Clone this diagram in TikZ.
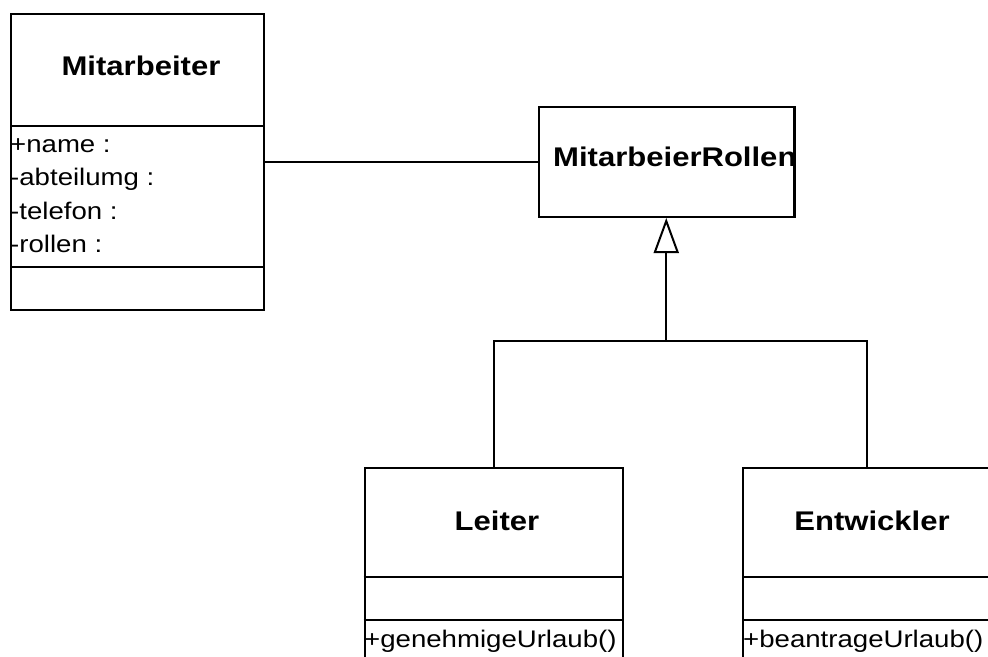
\documentclass[tikz,border=0pt]{standalone}
\usepackage{fontspec}
\setmainfont{Liberation Sans}[FakeStretch=1.15]
\usetikzlibrary{arrows.meta}
\begin{document}
\begin{tikzpicture}[x=1pt,y=-1pt,
  umlbox/.style={draw=black, line width=2pt, rectangle, inner sep=0pt, anchor=north west},
  divider/.style={draw=black, line width=2pt},
  link/.style={draw=black, line width=2pt},
  classname/.style={inner sep=0pt, font=\fontsize{27}{30}\selectfont\bfseries},
  member/.style={inner sep=0pt, anchor=base west, font=\fontsize{24}{28}\selectfont},
  inherit/.style={link, -{Triangle[open, length=35pt, width=25pt]}}]
  \clip (0,0) rectangle (988,656);
  \fill[white] (0,0) rectangle (988,656);

  % class boxes
  \node[umlbox, minimum width=253pt, minimum height=296pt] (mit) at (10,13) {};
  \node[umlbox, minimum width=255.5pt, minimum height=110pt] (rol) at (537.5,106) {};
  \node[umlbox, minimum width=258.5pt, minimum height=200pt] (lei) at (363.5,467) {};
  \node[umlbox, minimum width=248pt, minimum height=200pt] (ent) at (742,467) {};

  % compartments
  \draw[divider] (mit.west |- 0,126) -- (mit.east |- 0,126);
  \draw[divider] (mit.west |- 0,267) -- (mit.east |- 0,267);
  \draw[divider] (lei.west |- 0,577) -- (lei.east |- 0,577);
  \draw[divider] (lei.west |- 0,620) -- (lei.east |- 0,620);
  \draw[divider] (ent.west |- 0,577) -- (ent.east |- 0,577);
  \draw[divider] (ent.west |- 0,620) -- (ent.east |- 0,620);

  % class names
  \node[classname] (mitname) at (141,66) {Mitarbeiter};
  \node[classname, anchor=west] (rolname) at (553,157) {MitarbeierRollen};
  \node[classname] (leiname) at (497,521) {Leiter};
  \node[classname] (entname) at (872,521) {Entwickler};

  % attributes
  \node[member] (a1) at (10,152) {+name :};
  \node[member] (a2) at (10,185.5) {-abteilumg :};
  \node[member] (a3) at (10,219) {-telefon :};
  \node[member] (a4) at (10,252.5) {-rollen :};

  % operations
  \node[member] (op1) at (364,647) {+genehmigeUrlaub()};
  \node[member] (op2) at (743,647) {+beantrageUrlaub()};

  % redraw box outlines above the overflowing name
  \draw[link] (rol.north east) -- (rol.south east);

  % association
  \draw[link] (rol.west) -- (rol.west -| mit.east);

  % generalization
  \coordinate (bus) at (rol.south |- 0,341);
  \draw[link] (lei.north) |- (bus) -| (ent.north);
  \draw[inherit] (bus) -- (rol.south);
\end{tikzpicture}
\end{document}
